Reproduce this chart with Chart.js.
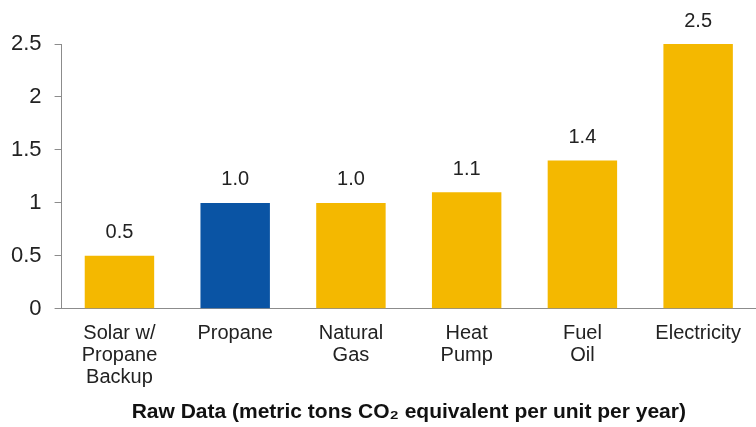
<!DOCTYPE html>
<html>
<head>
<meta charset="utf-8">
<script src="https://cdn.jsdelivr.net/npm/chart.js@4.4.0/dist/chart.umd.min.js"></script>
<style>
  html, body { margin: 0; padding: 0; background: #fff; }
  #wrap { width: 756px; height: 427px; position: relative; }
</style>
</head>
<body>
<div id="wrap"><canvas id="myChart" width="756" height="427"></canvas></div>
<script>
// data
var categorias = [
    ['Solar w/', 'Propane', 'Backup'],
    'Propane',
    ['Natural', 'Gas'],
    ['Heat', 'Pump'],
    ['Fuel', 'Oil'],
    'Electricity'
];
var valores = [0.5, 1.0, 1.0, 1.1, 1.4, 2.5];
var etiquetas = ['0.5', '1.0', '1.0', '1.1', '1.4', '2.5'];
var colores = ['#F4B800', '#0A54A4', '#F4B800', '#F4B800', '#F4B800', '#F4B800'];
var tituloX = 'Raw Data (metric tons CO\u2082 equivalent per unit per year)';

var fuente = "'Liberation Sans', Arial, sans-serif";

// dibuja los valores encima de cada barra
var etiquetasBarras = {
    id: 'etiquetasBarras',
    afterDatasetsDraw: function(chart){
        var ctx = chart.ctx;
        var meta = chart.getDatasetMeta(0);
        ctx.save();
        ctx.font = '20px ' + fuente;
        ctx.fillStyle = '#222';
        ctx.textAlign = 'center';
        ctx.textBaseline = 'middle';
        meta.data.forEach(function(bar, i){
            ctx.fillText(etiquetas[i], bar.x, bar.y - 23);
        });
        ctx.restore();
    }
};

const ctx = document.getElementById('myChart').getContext('2d');
const myChart = new Chart(ctx, {
    type: 'bar',
    data: {
        labels: categorias,
        datasets: [{
            data: valores,
            backgroundColor: colores,
            borderWidth: 0,
            categoryPercentage: 1.0,
            barPercentage: 0.6
        }]
    },
    options: {
        responsive: false,
        animation: false,
        layout: { padding: { top: 44, right: 0, left: -2, bottom: 4 } },
        plugins: {
            legend: { display: false },
            tooltip: { enabled: false }
        },
        scales: {
            x: {
                grid: { display: false, drawTicks: false },
                border: { display: true, color: '#8c8c8c', width: 1 },
                ticks: {
                    color: '#222',
                    font: { family: fuente, size: 20, lineHeight: 1.12 },
                    padding: 13,
                    maxRotation: 0,
                    autoSkip: false
                },
                title: {
                    display: true,
                    text: tituloX,
                    color: '#111',
                    font: { family: fuente, size: 21, weight: 'bold', lineHeight: 1.0 },
                    padding: { top: 0, bottom: 0 }
                }
            },
            y: {
                min: 0,
                max: 2.5,
                ticks: {
                    stepSize: 0.5,
                    color: '#222',
                    font: { family: fuente, size: 22 },
                    padding: 13,
                    callback: function(v){ return String(v); }
                },
                grid: {
                    drawOnChartArea: false,
                    drawTicks: true,
                    tickLength: 7,
                    color: '#8c8c8c'
                },
                border: { display: true, color: '#8c8c8c', width: 1 }
            }
        }
    },
    plugins: [etiquetasBarras]
});
</script>
</body>
</html>
